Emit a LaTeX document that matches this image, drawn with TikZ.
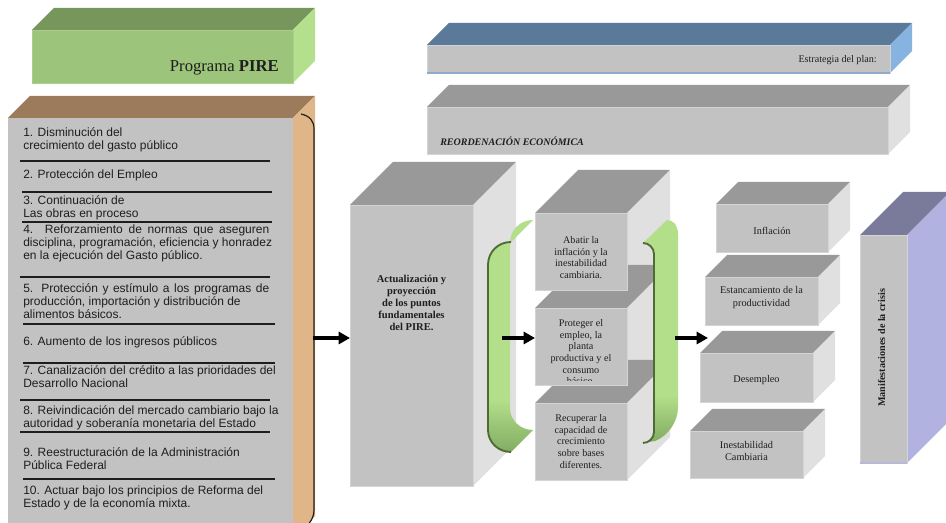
\documentclass[tikz,border=0pt]{standalone}
\usepackage{fontspec}
\setmainfont{Liberation Serif}
\newfontfamily\arialfont{Liberation Sans}
\usetikzlibrary{arrows.meta}

\definecolor{facegray}{HTML}{C2C2C2}
\definecolor{topgray}{HTML}{999999}
\definecolor{sidegray}{HTML}{E0E0E0}
\definecolor{edgegray}{HTML}{D4D4D4}
\definecolor{pirefront}{HTML}{9CC47B}
\definecolor{piretop}{HTML}{77965B}
\definecolor{pireside}{HTML}{B4DF8C}
\definecolor{pireedge}{HTML}{AACF8C}
\definecolor{listtop}{HTML}{9B7B5B}
\definecolor{listside}{HTML}{E0B587}
\definecolor{plantop}{HTML}{5B7A99}
\definecolor{planside}{HTML}{87B3E0}
\definecolor{planedge}{HTML}{8FAACB}
\definecolor{crisistop}{HTML}{7A7A9B}
\definecolor{crisisside}{HTML}{B2B2E0}
\definecolor{crisisedge}{HTML}{B8B8D8}
\definecolor{ribbon}{HTML}{B3DF8A}
\definecolor{ribbondark}{HTML}{7FA85F}
\definecolor{ribbonedge}{HTML}{4E6B36}
\definecolor{ink}{HTML}{1E1E1E}

% top and right side of a cuboid: x, y (top-left of front), width, height, depth, top colour, side colour
\newcommand\boxback[7]{%
  \fill[#6] (#1,#2) -- ++(#5,-#5) -- ++(#3,0) -- ++(-#5,#5) -- cycle;
  \fill[#7] ({#1+#3},#2) -- ++(#5,-#5) -- ++(0,#4) -- ++(-#5,#5) -- cycle;}
% front face of a cuboid as a named node: name, x, y, width, height, style
\newcommand\boxfront[6]{%
  \node[face, #6, minimum width={#4*0.75pt}, minimum height={#5*0.75pt}] (#1) at ({#2+#4/2},{#3+#5/2}) {};}
% a list line spread to the full column width
\newcommand\fullline[1]{\makebox[184.5pt][s]{#1}}

\begin{document}
\begin{tikzpicture}[x=0.75pt, y=-0.75pt,
  face/.style={rectangle, draw=edgegray, line width=0.5pt, fill=facegray, inner sep=0pt, outer sep=0pt},
  listtxt/.style={font=\arialfont\fontsize{9}{9.75}\selectfont, align=left, anchor=west, inner sep=0pt, text=ink},
  sepline/.style={line width=0.8pt, ink},
  bigtxt/.style={font=\bfseries\fontsize{7.9}{9}\selectfont, align=center, inner sep=0pt, text=ink},
  midtxt/.style={font=\fontsize{7.6}{8.8}\selectfont, align=center, inner sep=0pt, text=ink},
  rtxt/.style={font=\fontsize{7.7}{9.5}\selectfont, align=center, inner sep=0pt, text=ink},
  arrowline/.style={line width=2.4pt, black, -{Triangle[length=8.5pt,width=9pt]}},
  ribbonline/.style={ribbonedge, line width=1.4pt}
]
\useasboundingbox (0,0) rectangle (946,523);
\clip (0,0) rectangle (946,523);

% ---------- Programa PIRE ----------
\boxback{32}{30}{261}{53}{22}{piretop}{pireside}
\boxfront{pire}{32}{30}{261}{53}{fill=pirefront, draw=pireedge}
\node[anchor=east, inner sep=0pt, text=ink, font=\fontsize{12.5}{14}\selectfont] (pireText) at (279,68) {Programa \textbf{PIRE}};

% ---------- list of points ----------
\boxback{8}{118}{285}{420}{22}{listtop}{listside}
\boxfront{plist}{8}{118}{285}{420}{draw=none}

\node[listtxt] (p1) at (23,139.5) {1. Disminución del\\crecimiento del gasto público};
\node[listtxt] (p2) at (23,175) {2. Protección del Empleo};
\node[listtxt] (p3) at (23,208) {3. Continuación de\\Las obras en proceso};
\node[listtxt] (p4) at (23,243.5) {\fullline{4. Reforzamiento de normas que aseguren}\\disciplina, programación, eficiencia y honradez\\en la ejecución del Gasto público.};
\node[listtxt] (p5) at (23,301) {\fullline{5. Protección y estímulo a los programas de}\\producción, importación y distribución de\\alimentos básicos.};
\node[listtxt] (p6) at (23,342) {6. Aumento de los ingresos públicos};
\node[listtxt] (p7) at (23,376.5) {7. Canalización del crédito a las prioridades del\\Desarrollo Nacional};
\node[listtxt] (p8) at (23,418) {8. Reivindicación del mercado cambiario bajo la\\autoridad y soberanía monetaria del Estado};
\node[listtxt] (p9) at (23,458.5) {9. Reestructuración de la Administración\\Pública Federal};
\node[listtxt] (p10) at (23,498) {10. Actuar bajo los principios de Reforma del\\Estado y de la economía mixta.};

\draw[sepline] (20,161) -- (270,161);
\draw[sepline] (22,192) -- (272,192);
\draw[sepline] (22,222) -- (272,222);
\draw[sepline] (20,277) -- (270,277);
\draw[sepline] (23,324) -- (275,324);
\draw[sepline] (23,363) -- (275,363);
\draw[sepline] (20,400) -- (270,400);
\draw[sepline] (20,432) -- (270,432);
\draw[sepline] (23,479) -- (275,479);

% brace on the side of the list
\draw[line width=0.9pt, ink] (301,114) .. controls (310,116) and (314,121) .. (314,129)
  -- (314,510) .. controls (314,520) and (307,528) .. (296,532);
\coordinate (listOut) at (313,338);

% ---------- strategy banners ----------
\boxback{427}{45}{463}{28}{22}{plantop}{planside}
\boxfront{plan}{427}{45}{463}{28}{draw=edgegray}
\draw[planedge, line width=0.9pt] (plan.south west) -- (plan.south east);
\node[anchor=east, inner sep=0pt, text=ink, font=\fontsize{7.6}{9}\selectfont] (planText) at (877,60) {Estrategia del plan:};

\boxback{427}{107}{461}{47}{22}{topgray}{sidegray}
\boxfront{reo}{427}{107}{461}{47}{}
\node[anchor=west, inner sep=0pt, text=ink, font=\bfseries\itshape\fontsize{7.5}{9}\selectfont] (reoText) at (440,141) {REORDENACIÓN ECONÓMICA};

% ---------- update block ----------
\boxback{350}{205}{123}{281}{43}{topgray}{sidegray}
\boxfront{big}{350}{205}{123}{281}{}
\node[bigtxt, anchor=north] (bigText) at (411.5,275) {Actualización y\\proyección\\de los puntos\\fundamentales\\del PIRE.};

% left green bracket
\begin{scope}
  \clip (511,242) .. controls (498,242) and (488,252) .. (488,265) -- (488,430)
    .. controls (488,442) and (498,452) .. (511,452) -- (533,430)
    .. controls (520,430) and (510,420) .. (510,408) -- (510,243)
    .. controls (510,230) and (520,220) .. (533,220) -- cycle;
  \fill[ribbon] (480,210) rectangle (540,400);
  \shade[top color=ribbon, bottom color=ribbondark] (480,400) rectangle (540,456);
\end{scope}
\draw[ribbonline] (511,242) .. controls (498,242) and (488,252) .. (488,265) -- (488,430)
  .. controls (488,442) and (498,452) .. (511,452);
\coordinate (leftRib) at (502,338);

% ---------- goals column ----------
\boxback{535}{213}{92}{77}{43}{topgray}{sidegray}
\boxback{535}{308}{92}{77}{43}{topgray}{sidegray}
\boxback{535}{403}{92}{77}{43}{topgray}{sidegray}
\boxfront{goalA}{535}{213}{92}{77}{}
\boxfront{goalB}{535}{308}{92}{77}{}
\boxfront{goalC}{535}{403}{92}{77}{}
\node[midtxt, anchor=north] (goalAText) at (581,236) {Abatir la\\inflación y la\\inestabilidad\\cambiaria.};
\begin{scope}
  % the text area of this box stops a little above its lower edge
  \clip (goalB.north west) rectangle ([yshift=3.6pt]goalB.south east);
  \node[midtxt, anchor=north] (goalBText) at (581,319) {Proteger el\\empleo, la\\planta\\productiva y el\\consumo\\básico.};
\end{scope}
\node[midtxt, anchor=north] (goalCText) at (581,414) {Recuperar la\\capacidad de\\crecimiento\\sobre bases\\diferentes.};

% right green bracket
\begin{scope}
  \clip (643,243) .. controls (649,243) and (654,248) .. (654,254) -- (654,432)
    .. controls (654,438) and (649,443) .. (643,443) -- (655,441)
    .. controls (668,436) and (678,422) .. (678,407) -- (678,234)
    .. controls (678,226) and (674,220) .. (667,220) -- cycle;
  \fill[ribbon] (640,215) rectangle (682,395);
  \shade[top color=ribbon, bottom color=ribbondark] (640,395) rectangle (682,446);
\end{scope}
\draw[ribbonline] (643,243) .. controls (649,243) and (654,248) .. (654,254) -- (654,432)
  .. controls (654,438) and (649,443) .. (643,443);
\coordinate (rightRib) at (675,338);
\coordinate (crisisIn) at (708,338);

% ---------- symptoms ----------
\boxback{716}{204}{112}{48}{22}{topgray}{sidegray}
\boxfront{infl}{716}{204}{112}{48}{}
\node[rtxt] (inflText) at (772,231) {Inflación};

\boxback{705}{277}{113}{48}{22}{topgray}{sidegray}
\boxfront{estan}{705}{277}{113}{48}{}
\node[rtxt] (estanText) at (761.5,297.5) {Estancamiento de la\\productividad};

\boxback{700}{353}{113}{49}{22}{topgray}{sidegray}
\boxfront{desem}{700}{353}{113}{49}{}
\node[rtxt] (desemText) at (756.5,380) {Desempleo};

\boxback{690}{431}{113}{47}{22}{topgray}{sidegray}
\boxfront{inest}{690}{431}{113}{47}{}
\node[rtxt, font=\fontsize{7.7}{9}\selectfont] (inestText) at (746.5,451) {Inestabilidad\\Cambiaria};

\boxback{860}{235}{47}{228}{43}{crisistop}{crisisside}
\boxfront{crisis}{860}{235}{47}{228}{}
\draw[crisisedge, line width=0.8pt] (crisis.south west) -- (crisis.south east);
\node[rotate=90, inner sep=0pt, text=ink, font=\bfseries\fontsize{7.6}{9}\selectfont] (crisisText) at (881.5,348) {Manifestaciones de la crisis};

% ---------- arrows ----------
\draw[arrowline] (listOut) -- (big.west |- listOut);
\draw[arrowline] (leftRib) -- (goalB.west |- leftRib);
\draw[arrowline] (rightRib) -- (crisisIn);
\end{tikzpicture}
\end{document}
